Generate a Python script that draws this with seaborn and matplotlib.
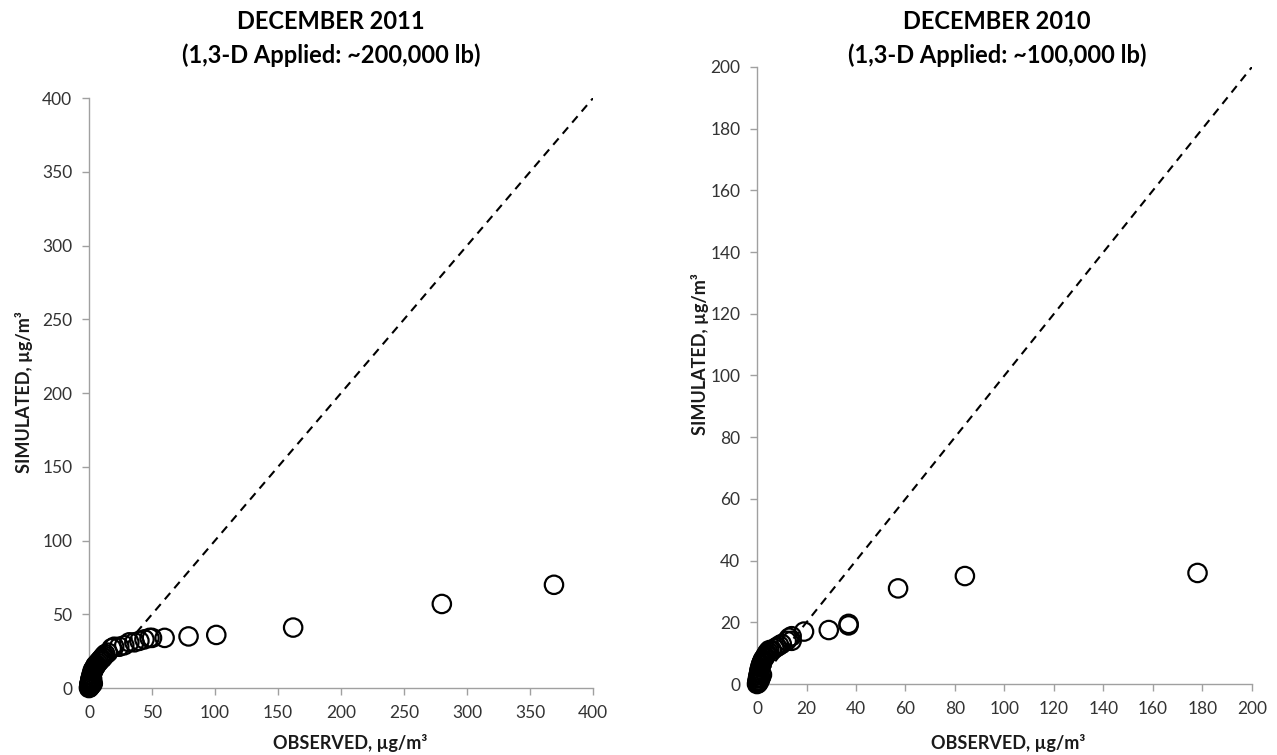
import matplotlib
matplotlib.use("Agg")
import matplotlib.pyplot as plt
import seaborn as sns
import pandas as pd

# ---- data: DECEMBER 2011 ----
obs_2011 = [0, 0.1, 0.2, 0.3, 0.3, 0.5, 0.5, 0.7, 0.8, 1.0, 1.0, 1.2, 1.5, 1.5, 2, 2, 2.5, 3, 3, 3.5,
            4, 4.5, 5, 5.5, 6, 7, 8, 9, 10, 11, 12, 13, 15, 18, 20, 24, 28, 32, 36, 40,
            44, 48, 50, 60, 79, 101, 162, 280, 369,
            0.5, 1, 2, 3, 1.5, 2.5]
sim_2011 = [0, 0.5, 1, 1.5, 2, 2.5, 3, 3.5, 4, 4.5, 5, 6, 6.5, 7, 8, 9, 10, 11, 12, 12.5,
            13, 14, 15, 15.5, 16, 17, 18, 19, 20, 21, 22, 23, 24, 27, 28, 28, 29, 31, 31, 32,
            33, 34, 34, 34, 35, 36, 41, 57, 70,
            0.5, 1, 2, 3, 4, 6]

# ---- data: DECEMBER 2010 ----
obs_2010 = [0, 0.1, 0.2, 0.3, 0.4, 0.5, 0.6, 0.8, 0.9, 1.0, 1.1, 1.3, 1.5, 1.7, 2, 2.2, 2.5, 3, 3.3, 3.8,
            4, 4.5, 5, 6, 7, 8, 9, 10, 12, 13, 14, 14, 19, 29, 37, 37, 57, 84, 178,
            0.5, 1, 1.5, 2]
sim_2010 = [0, 0.3, 0.8, 1.2, 1.8, 2.2, 2.8, 3.3, 3.8, 4.3, 4.8, 5.3, 6, 6.5, 7, 7.5, 8, 8.5, 9, 9.5,
            10, 10.5, 11, 11, 11.5, 12, 12.5, 13, 14, 15, 15.5, 14, 17, 17.5, 19, 19.5, 31, 35, 36,
            0.3, 1, 2, 3]

title_line1 = ["DECEMBER 2011", "DECEMBER 2010"]
title_line2 = ["(1,3-D Applied: ~200,000 lb)", "(1,3-D Applied: ~100,000 lb)"]
xlabel = "OBSERVED, µg/m³"
ylabel = "SIMULATED, µg/m³"
limits = [400, 200]
steps = [50, 20]

sns.set_theme(style="white")
plt.rcParams["font.family"] = ["Lato", "DejaVu Sans"]

fig = plt.figure(figsize=(12.77, 7.55), dpi=100)
ax1 = fig.add_axes([0.0697, 0.0887, 0.3947, 0.7813])
ax2 = fig.add_axes([0.5928, 0.0940, 0.3876, 0.8173])

datasets = [pd.DataFrame({"obs": obs_2011, "sim": sim_2011}),
            pd.DataFrame({"obs": obs_2010, "sim": sim_2010})]

title_x = [0.2592, 0.7807]
ylab_pos = [(-0.129, 0.502), (-0.115, 0.535)]
xlab_pos = [(0.518, -0.093), (0.507, -0.0956)]

for i, (ax, df, lim, st) in enumerate(zip([ax1, ax2], datasets, limits, steps)):
    ax.plot([0, lim], [0, lim], ls=(0, (4, 3)), color="black", lw=1.5, zorder=1)
    sns.scatterplot(data=df, x="obs", y="sim", ax=ax, s=175, facecolors="none",
                    edgecolor="black", linewidth=1.6, zorder=3, clip_on=False)
    ax.set_xlim(0, lim)
    ax.set_ylim(0, lim)
    ax.set_xticks(range(0, lim + 1, st))
    ax.set_yticks(range(0, lim + 1, st))
    for side in ["top", "right"]:
        ax.spines[side].set_visible(False)
    for side in ["left", "bottom"]:
        ax.spines[side].set_color("#a0a0a0")
        ax.spines[side].set_linewidth(1.0)
    ax.tick_params(axis="both", which="major", direction="out", length=5, width=1,
                   color="#a0a0a0", labelsize=12.5, labelcolor="#333333", pad=7,
                   left=True, bottom=True)
    ax.set_xlabel(xlabel, fontsize=13, fontweight="bold", color="#1a1a1a", va="center")
    ax.set_ylabel(ylabel, fontsize=13, fontweight="bold", color="#1a1a1a", va="center")
    ax.xaxis.set_label_coords(*xlab_pos[i])
    ax.yaxis.set_label_coords(*ylab_pos[i])
    fig.text(title_x[i], 0.9709, title_line1[i], ha="center", va="center", fontsize=17,
             fontweight="bold", color="black")
    fig.text(title_x[i], 0.9272, title_line2[i], ha="center", va="center", fontsize=17,
             fontweight="bold", color="black")

fig.savefig("out.png", dpi=100)
